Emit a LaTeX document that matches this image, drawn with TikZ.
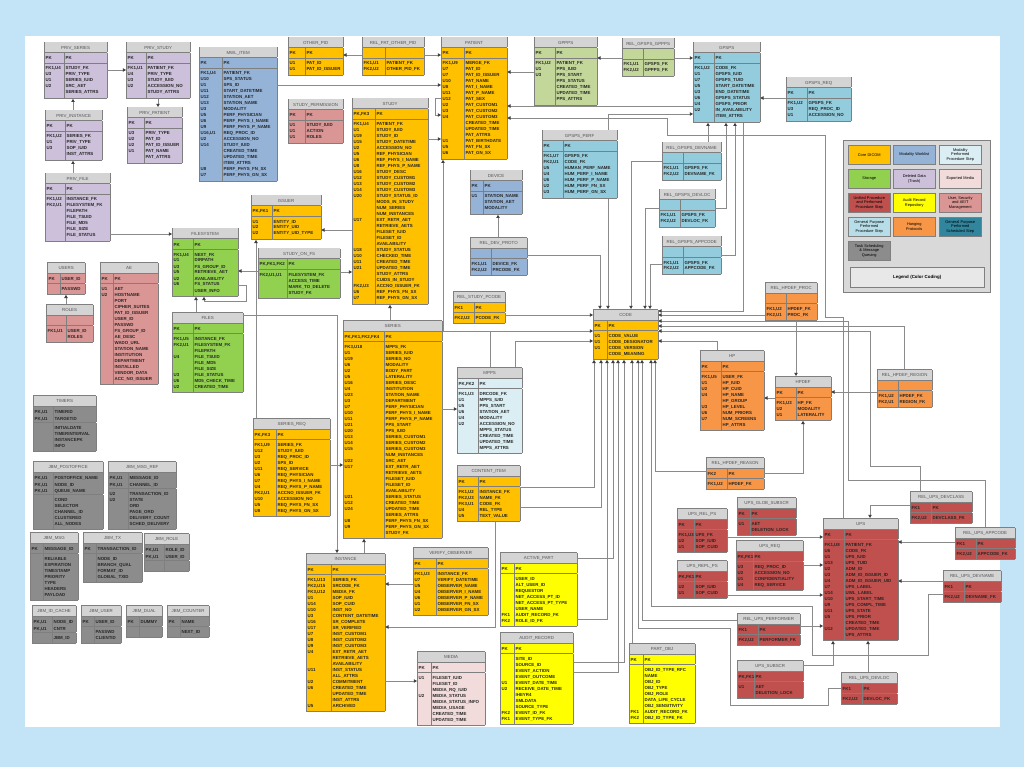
\documentclass[tikz,border=0pt]{standalone}
\usepackage{fontspec}
\setmainfont{Liberation Sans}
\usepackage{tikz}
\usepackage{colortbl}
\usetikzlibrary{arrows.meta}

\definecolor{bgblue}{HTML}{C2E4F6}
\definecolor{linegrey}{HTML}{8A8A8A}
\definecolor{rulegrey}{HTML}{7F7F7F}
\definecolor{hdrgrey}{HTML}{D4D4D4}
\definecolor{hdrtxt}{HTML}{555555}
\definecolor{core}{HTML}{FFC000}
\definecolor{mwl}{HTML}{95B3D7}
\definecolor{mppsc}{HTML}{DAEEF3}
\definecolor{storage}{HTML}{92D050}
\definecolor{trash}{HTML}{CCC0DA}
\definecolor{exported}{HTML}{F2DCDB}
\definecolor{upsc}{HTML}{C0504D}
\definecolor{audit}{HTML}{FFFF00}
\definecolor{usersec}{HTML}{DA9694}
\definecolor{gpssc}{HTML}{93CDDD}
\definecolor{gpppsc}{HTML}{C4D79B}
\definecolor{hpc}{HTML}{F79646}
\definecolor{taskc}{HTML}{8C8C8C}
\definecolor{leggpp}{HTML}{B7DEE8}
\definecolor{leggps}{HTML}{31859C}
\definecolor{legbg}{HTML}{D9D9D9}

\setlength{\tabcolsep}{1.2pt}
\setlength{\arrayrulewidth}{0.5pt}
\arrayrulecolor{rulegrey}

\newcommand{\erd}[5]{%
\begin{tabular}{|>{\raggedright\arraybackslash}p{#1pt}|>{\raggedright\arraybackslash}p{#2pt}|}\hline
\multicolumn{2}{|c|}{\cellcolor{hdrgrey}\rule[-3pt]{0pt}{10pt}\mdseries\color{hdrtxt}#3}\\\hline
\rule[-3pt]{0pt}{10pt}#4\\\hline
\rule{0pt}{6.5pt}#5\rule[-4.3pt]{0pt}{0pt}\\\hline
\end{tabular}}

\tikzset{
  tbl/.style={anchor=north west, inner sep=0pt, outer sep=0pt, fill=#1, text=black!85,
    font={\fontsize{4.4}{6}\selectfont\bfseries}},
  fk/.style={draw=linegrey, line width=0.8pt, -{Triangle[length=3.2pt,width=3.4pt,color=black!75]}},
  legcell/.style={draw=rulegrey, line width=0.5pt, fill=#1, minimum width=42pt, minimum height=19pt,
    text width=40pt, align=center, inner sep=0.5pt, anchor=north west, font={\fontsize{3.9}{4.6}\selectfont}}
}

\begin{document}
\catcode`\_=12
\begin{tikzpicture}[x=1pt,y=-1pt]
\useasboundingbox (0,0) rectangle (1024,767);
\fill[bgblue] (0,0) rectangle (1024,767);
\fill[white] (25,36) rectangle (1000,727);

% deleted data
\node[tbl=trash] (prvseries) at (44,42) {\erd{17}{40}{PRIV_SERIES}{PK & PK}{FK1,U4 & STUDY_FK\\ U3 & PRIV_TYPE\\ U1 & SERIES_IUID\\ U2 & SRC_AET\\ & SERIES_ATTRS}};
\node[tbl=trash] (prvstudy) at (126,42) {\erd{17}{41}{PRIV_STUDY}{PK & PK}{FK1,U1 & PATIENT_FK\\ U4 & PRIV_TYPE\\ U3 & STUDY_IUID\\ U2 & ACCESSION_NO\\ & STUDY_ATTRS}};
\node[tbl=trash] (prvpatient) at (127,107) {\erd{14}{35}{PRIV_PATIENT}{PK & PK}{U3 & PRIV_TYPE\\ U2 & PAT_ID\\ U2 & PAT_ID_ISSUER\\ U1 & PAT_NAME\\ & PAT_ATTRS}};
\node[tbl=trash] (prvinstance) at (45,110) {\erd{17}{34}{PRIV_INSTANCE}{PK & PK}{FK1,U2 & SERIES_FK\\ U1 & PRIV_TYPE\\ U3 & SOP_IUID\\ & INST_ATTRS}};
\node[tbl=trash] (prvfile) at (45,173) {\erd{17}{42}{PRIV_FILE}{PK & PK}{FK1,U2 & INSTANCE_FK\\ FK2,U1 & FILESYSTEM_FK\\ & FILEPATH\\ & FILE_TSUID\\ & FILE_MD5\\ & FILE_SIZE\\ & FILE_STATUS}};

% worklist, patient, study
\node[tbl=mwl] (mwl) at (199,47) {\erd{20}{52}{MWL_ITEM}{PK & PK}{FK1,U4 & PATIENT_FK\\ U10 & SPS_STATUS\\ U1 & SPS_ID\\ U11 & START_DATETIME\\ U12 & STATION_AET\\ U13 & STATION_NAME\\ U3 & MODALITY\\ U5 & PERF_PHYSICIAN\\ U6 & PERF_PHYS_I_NAME\\ U9 & PERF_PHYS_P_NAME\\ U16,U1 & REQ_PROC_ID\\ U2 & ACCESSION_NO\\ U14 & STUDY_IUID\\ & CREATED_TIME\\ & UPDATED_TIME\\ & ITEM_ATTRS\\ U8 & PERF_PHYS_FN_SX\\ U7 & PERF_PHYS_GN_SX}};
\node[tbl=core] (othpid) at (288,37) {\erd{14}{35}{OTHER_PID}{PK & PK}{U1 & PAT_ID\\ U1 & PAT_ID_ISSUER}};
\node[tbl=core] (relpatpid) at (362,37) {\erd{20}{36}{REL_PAT_OTHER_PID}{ & }{FK1,U1 & PATIENT_FK\\ FK2,U2 & OTHER_PID_FK}};
\node[tbl=core] (patient) at (441,37) {\erd{20}{40}{PATIENT}{PK & PK}{FK1,U9 & MERGE_FK\\ U7 & PAT_ID\\ U7 & PAT_ID_ISSUER\\ U10 & PAT_NAME\\ U8 & PAT_I_NAME\\ U11 & PAT_P_NAME\\ U12 & PAT_SEX\\ U2 & PAT_CUSTOM1\\ U3 & PAT_CUSTOM2\\ U4 & PAT_CUSTOM3\\ & CREATED_TIME\\ & UPDATED_TIME\\ & PAT_ATTRS\\ U1 & PAT_BIRTHDATE\\ U5 & PAT_FN_SX\\ U6 & PAT_GN_SX}};
\node[tbl=usersec] (stperm) at (288,99) {\erd{14}{35}{STUDY_PERMISSION}{PK & PK}{U1 & STUDY_IUID\\ U1 & ACTION\\ U1 & ROLES}};
\node[tbl=core] (study) at (352,98) {\erd{20}{50}{STUDY}{PK,FK3 & PK}{FK1,U4 & PATIENT_FK\\ U1 & STUDY_IUID\\ U19 & STUDY_ID\\ U15 & STUDY_DATETIME\\ U2 & ACCESSION_NO\\ U5 & REF_PHYSICIAN\\ U6 & REF_PHYS_I_NAME\\ U8 & REF_PHYS_P_NAME\\ U16 & STUDY_DESC\\ U12 & STUDY_CUSTOM1\\ U13 & STUDY_CUSTOM2\\ U14 & STUDY_CUSTOM3\\ U20 & STUDY_STATUS_ID\\ & MODS_IN_STUDY\\ & NUM_SERIES\\ & NUM_INSTANCES\\ U17 & EXT_RETR_AET\\ & RETRIEVE_AETS\\ & FILESET_IUID\\ & FILESET_ID\\ & AVAILABILITY\\ U18 & STUDY_STATUS\\ U10 & CHECKED_TIME\\ U11 & CREATED_TIME\\ U21 & UPDATED_TIME\\ & STUDY_ATTRS\\ & CUIDS_IN_STUDY\\ FK2,U3 & ACCNO_ISSUER_FK\\ U6 & REF_PHYS_FN_SX\\ U7 & REF_PHYS_GN_SX}};
\node[tbl=core] (issuer) at (251,195) {\erd{18}{46}{ISSUER}{PK,FK1 & PK}{U1 & ENTITY_ID\\ U2 & ENTITY_UID\\ U2 & ENTITY_UID_TYPE}};
\node[tbl=storage] (studyonfs) at (258,248) {\erd{26}{50}{STUDY_ON_FS}{PK,FK1,FK2 & PK}{FK2,U1,U1 & FILESYSTEM_FK\\ & ACCESS_TIME\\ & MARK_TO_DELETE\\ & STUDY_FK}};

% general purpose worklist
\node[tbl=gpppsc] (gppps) at (534,37) {\erd{18}{39}{GPPPS}{PK & PK}{FK1,U2 & PATIENT_FK\\ U1 & PPS_IUID\\ U3 & PPS_START\\ & PPS_STATUS\\ & CREATED_TIME\\ & UPDATED_TIME\\ & PPS_ATTRS}};
\node[tbl=gpppsc] (relgpsgpp) at (622,38) {\erd{18}{28}{REL_GPSPS_GPPPS}{ & }{FK1,U1 & GPSPS_FK\\ FK2,U2 & GPPPS_FK}};
\node[tbl=gpssc] (gpsps) at (693,42) {\erd{18}{43}{GPSPS}{PK & PK}{FK1,U2 & CODE_FK\\ U1 & GPSPS_IUID\\ U7 & GPSPS_TUID\\ U5 & START_DATETIME\\ U3 & END_DATETIME\\ U6 & GPSPS_STATUS\\ U4 & GPSPS_PRIOR\\ U2 & IN_AVAILABILITY\\ & ITEM_ATTRS}};
\node[tbl=gpssc] (gpspsreq) at (786,77) {\erd{18}{41}{GPSPS_REQ}{PK & PK}{FK1,U2 & GPSPS_FK\\ U3 & REQ_PROC_ID\\ U1 & ACCESSION_NO}};
\node[tbl=gpssc] (gpspsperf) at (542,130) {\erd{18}{51}{GPSPS_PERF}{PK & PK}{FK1,U7 & GPSPS_FK\\ FK2,U1 & CODE_FK\\ U5 & HUMAN_PERF_NAME\\ U4 & HUM_PERF_I_NAME\\ U6 & HUM_PERF_P_NAME\\ U2 & HUM_PERF_FN_SX\\ U3 & HUM_PERF_GN_SX}};
\node[tbl=gpssc] (relgdevname) at (662,142) {\erd{18}{35}{REL_GPSPS_DEVNAME}{ & }{FK1,U1 & GPSPS_FK\\ FK2,U2 & DEVNAME_FK}};
\node[tbl=gpssc] (relgdevloc) at (659,189) {\erd{18}{32}{REL_GPSPS_DEVLOC}{ & }{FK1,U1 & GPSPS_FK\\ FK2,U2 & DEVLOC_FK}};
\node[tbl=gpssc] (relgappcode) at (662,236) {\erd{18}{35}{REL_GPSPS_APPCODE}{ & }{FK1,U1 & GPSPS_FK\\ FK2,U2 & APPCODE_FK}};
\node[tbl=mwl] (device) at (470,170) {\erd{10}{36}{DEVICE}{PK & PK}{U1 & STATION_NAME\\ & STATION_AET\\ & MODALITY}};
\node[tbl=mwl] (reldevproto) at (470,237) {\erd{18}{33}{REL_DEV_PROTO}{ & }{FK1,U1 & DEVICE_FK\\ FK2,U2 & PRCODE_FK}};

% storage, users
\node[tbl=storage] (filesystem) at (172,228) {\erd{18}{42}{FILESYSTEM}{PK & PK}{FK1,U4 & NEXT_FK\\ U1 & DIRPATH\\ U3 & FS_GROUP_ID\\ U5 & RETRIEVE_AET\\ U2 & AVAILABILITY\\ U6 & FS_STATUS\\ & USER_INFO}};
\node[tbl=usersec] (users) at (47,262) {\erd{10}{22}{USERS}{PK & USER_ID}{ & PASSWD}};
\node[tbl=usersec] (roles) at (46,304) {\erd{17}{24}{ROLES}{ & }{FK1,U1 & USER_ID\\ & ROLES}};
\node[tbl=usersec] (ae) at (100,262) {\erd{10}{42}{AE}{PK & PK}{U1 & AET\\ U2 & HOSTNAME\\ & PORT\\ & CIPHER_SUITES\\ & PAT_ID_ISSUER\\ & USER_ID\\ & PASSWD\\ & FS_GROUP_ID\\ & AE_DESC\\ & WADO_URL\\ & STATION_NAME\\ & INSTITUTION\\ & DEPARTMENT\\ & INSTALLED\\ & VENDOR_DATA\\ & ACC_NO_ISSUER}};
\node[tbl=storage] (files) at (172,312) {\erd{18}{47}{FILES}{PK & PK}{FK1,U5 & INSTANCE_FK\\ FK2,U1 & FILESYSTEM_FK\\ & FILEPATH\\ U4 & FILE_TSUID\\ & FILE_MD5\\ & FILE_SIZE\\ U3 & FILE_STATUS\\ U6 & MD5_CHECK_TIME\\ U2 & CREATED_TIME}};

% task scheduling and message queuing
\node[tbl=taskc] (timers) at (33,395) {\erd{17}{40}{TIMERS}{PK,U1 & TIMERID\\ PK,U1 & TARGETID}{ & INITIALDATE\\ & TIMERINTERVAL\\ & INSTANCEPK\\ & INFO}};
\node[tbl=taskc] (jbmpo) at (33,461) {\erd{17}{47}{JBM_POSTOFFICE}{PK,U1 & POSTOFFICE_NAME\\ PK,U1 & NODE_ID\\ PK,U1 & QUEUE_NAME}{ & COND\\ & SELECTOR\\ & CHANNEL_ID\\ & CLUSTERED\\ & ALL_NODES}};
\node[tbl=taskc] (jbmmsgref) at (108,461) {\erd{17}{45}{JBM_MSG_REF}{PK,U1 & MESSAGE_ID\\ PK,U1 & CHANNEL_ID}{U2 & TRANSACTION_ID\\ U2 & STATE\\ & ORD\\ & PAGE_ORD\\ & DELIVERY_COUNT\\ & SCHED_DELIVERY}};
\node[tbl=taskc] (jbmmsg) at (30,532) {\erd{10}{32}{JBM_MSG}{PK & MESSAGE_ID}{ & RELIABLE\\ & EXPIRATION\\ & TIMESTAMP\\ & PRIORITY\\ & TYPE\\ & HEADERS\\ & PAYLOAD}};
\node[tbl=taskc] (jbmtx) at (83,532) {\erd{10}{43}{JBM_TX}{PK & TRANSACTION_ID}{ & NODE_ID\\ & BRANCH_QUAL\\ & FORMAT_ID\\ & GLOBAL_TXID}};
\node[tbl=taskc] (jbmrole) at (144,533) {\erd{17}{22}{JBM_ROLE}{PK,U1 & ROLE_ID\\ PK,U1 & USER_ID}{ & }};
\node[tbl=taskc] (jbmidc) at (32,605) {\erd{17}{21}{JBM_ID_CACHE}{PK,U1 & NODE_ID\\ PK,U1 & CNTR}{ & JBM_ID}};
\node[tbl=taskc] (jbmuser) at (81,605) {\erd{10}{24}{JBM_USER}{PK & USER_ID}{ & PASSWD\\ & CLIENTID}};
\node[tbl=taskc] (jbmdual) at (126,605) {\erd{10}{20}{JBM_DUAL}{PK & DUMMY}{ & }};
\node[tbl=taskc] (jbmcounter) at (167,605) {\erd{10}{26}{JBM_COUNTER}{PK & NAME}{ & NEXT_ID}};

% series, instance, code
\node[tbl=core] (series) at (343,320) {\erd{38}{55}{SERIES}{PK,FK1,FK2,FK4 & PK}{FK3,U18 & MPPS_FK\\ U1 & SERIES_IUID\\ U19 & SERIES_NO\\ U6 & MODALITY\\ U2 & BODY_PART\\ U5 & LATERALITY\\ U16 & SERIES_DESC\\ U4 & INSTITUTION\\ U23 & STATION_NAME\\ U3 & DEPARTMENT\\ U7 & PERF_PHYSICIAN\\ U10 & PERF_PHYS_I_NAME\\ U11 & PERF_PHYS_P_NAME\\ U21 & PPS_START\\ U20 & PPS_IUID\\ U13 & SERIES_CUSTOM1\\ U14 & SERIES_CUSTOM2\\ U15 & SERIES_CUSTOM3\\ & NUM_INSTANCES\\ U22 & SRC_AET\\ U17 & EXT_RETR_AET\\ & RETRIEVE_AETS\\ & FILESET_IUID\\ & FILESET_ID\\ & AVAILABILITY\\ U21 & SERIES_STATUS\\ U12 & CREATED_TIME\\ U24 & UPDATED_TIME\\ & SERIES_ATTRS\\ U8 & PERF_PHYS_FN_SX\\ U9 & PERF_PHYS_GN_SX\\ & STUDY_FK}};
\node[tbl=core] (seriesreq) at (253,418) {\erd{20}{51}{SERIES_REQ}{PK,FK3 & PK}{FK1,U9 & SERIES_FK\\ U12 & STUDY_IUID\\ U3 & REQ_PROC_ID\\ U2 & SPS_ID\\ U11 & REQ_SERVICE\\ U6 & REQ_PHYSICIAN\\ U7 & REQ_PHYS_I_NAME\\ U4 & REQ_PHYS_P_NAME\\ FK2,U1 & ACCNO_ISSUER_FK\\ U10 & ACCESSION_NO\\ U5 & REQ_PHYS_FN_SX\\ U8 & REQ_PHYS_GN_SX}};
\node[tbl=core] (relstudypc) at (453,291) {\erd{18}{28}{REL_STUDY_PCODE}{FK1 & PK}{FK2,U2 & PCODE_FK}};
\node[tbl=core] (code) at (593,309) {\erd{11}{48}{CODE}{PK & PK}{U1 & CODE_VALUE\\ U1 & CODE_DESIGNATOR\\ U1 & CODE_VERSION\\ & CODE_MEANING}};
\node[tbl=mppsc] (mpps) at (457,367) {\erd{18}{41}{MPPS}{PK,FK2 & PK}{FK1,U3 & DRCODE_FK\\ U1 & MPPS_IUID\\ U5 & PPS_START\\ U6 & STATION_AET\\ U4 & MODALITY\\ U2 & ACCESSION_NO\\ & MPPS_STATUS\\ & CREATED_TIME\\ & UPDATED_TIME\\ & MPPS_ATTRS}};
\node[tbl=core] (contentitem) at (457,465) {\erd{18}{39}{CONTENT_ITEM}{PK & PK}{FK1,U2 & INSTANCE_FK\\ FK2,U3 & NAME_FK\\ FK3,U1 & CODE_FK\\ U4 & REL_TYPE\\ U5 & TEXT_VALUE}};
\node[tbl=core] (instance) at (306,553) {\erd{22}{51}{INSTANCE}{PK & PK}{FK1,U13 & SERIES_FK\\ FK2,U15 & SRCODE_FK\\ FK3,U12 & MEDIA_FK\\ U1 & SOP_IUID\\ U14 & SOP_CUID\\ U10 & INST_NO\\ U3 & CONTENT_DATETIME\\ U16 & SR_COMPLETE\\ U17 & SR_VERIFIED\\ U7 & INST_CUSTOM1\\ U8 & INST_CUSTOM2\\ U9 & INST_CUSTOM3\\ U4 & EXT_RETR_AET\\ & RETRIEVE_AETS\\ & AVAILABILITY\\ U11 & INST_STATUS\\ & ALL_ATTRS\\ U2 & COMMITMENT\\ U6 & CREATED_TIME\\ & UPDATED_TIME\\ & INST_ATTRS\\ U5 & ARCHIVED}};
\node[tbl=core] (verifyobs) at (413,547) {\erd{20}{49}{VERIFY_OBSERVER}{PK & PK}{FK1,U3 & INSTANCE_FK\\ U7 & VERIFY_DATETIME\\ U5 & OBSERVER_NAME\\ U4 & OBSERVER_I_NAME\\ U6 & OBSERVER_P_NAME\\ U1 & OBSERVER_FN_SX\\ U2 & OBSERVER_GN_SX}};
\node[tbl=exported] (media) at (417,651) {\erd{11}{51}{MEDIA}{PK & PK}{U1 & FILESET_IUID\\ & FILESET_ID\\ & MEDIA_RQ_IUID\\ U2 & MEDIA_STATUS\\ & MEDIA_STATUS_INFO\\ & MEDIA_USAGE\\ & CREATED_TIME\\ & UPDATED_TIME}};

% audit record repository
\node[tbl=audit] (activepart) at (500,552) {\erd{11}{60}{ACTIVE_PART}{PK & PK}{ & USER_ID\\ & ALT_USER_ID\\ & REQUESTOR\\ & NET_ACCESS_PT_ID\\ & NET_ACCESS_PT_TYPE\\ & USER_NAME\\ FK1 & AUDIT_RECORD_FK\\ FK2 & ROLE_ID_FK}};
\node[tbl=audit] (auditrec) at (500,632) {\erd{11}{56}{AUDIT_RECORD}{PK & PK}{ & SITE_ID\\ & SOURCE_ID\\ & EVENT_ACTION\\ & EVENT_OUTCOME\\ U1 & EVENT_DATE_TIME\\ U2 & RECEIVE_DATE_TIME\\ & IHEYR4\\ & XMLDATA\\ & SOURCE_TYPE\\ FK2 & EVENT_ID_FK\\ FK1 & EVENT_TYPE_FK}};
\node[tbl=audit] (partobj) at (629,643) {\erd{11}{49}{PART_OBJ}{PK & PK}{ & OBJ_ID_TYPE_RFC\\ & NAME\\ & OBJ_ID\\ & OBJ_TYPE\\ & OBJ_ROLE\\ & DATA_LIFE_CYCLE\\ & OBJ_SENSITIVITY\\ FK1 & AUDIT_RECORD_FK\\ FK2 & OBJ_ID_TYPE_FK}};

% hanging protocols
\node[tbl=hpc] (hp) at (700,350) {\erd{18}{40}{HP}{PK & PK}{FK1,U5 & USER_FK\\ U1 & HP_IUID\\ U2 & HP_CUID\\ U4 & HP_NAME\\ & HP_GROUP\\ U3 & HP_LEVEL\\ U6 & NUM_PRIORS\\ U7 & NUM_SCREENS\\ & HP_ATTRS}};
\node[tbl=hpc] (relhpdefreason) at (706,457) {\erd{18}{34}{REL_HPDEF_REASON}{FK2 & PK}{FK1,U2 & HPDEF_FK}};
\node[tbl=hpc] (hpdef) at (775,376) {\erd{18}{32}{HPDEF}{PK & PK}{FK1,U3 & HP_FK\\ U2 & MODALITY\\ U1 & LATERALITY}};
\node[tbl=hpc] (relhpdefproc) at (765,282) {\erd{18}{28}{REL_HPDEF_PROC}{ & }{FK1,U2 & HPDEF_FK\\ FK2,U1 & PROC_FK}};
\node[tbl=hpc] (relhpdefregion) at (877,369) {\erd{18}{31}{REL_HPDEF_REGION}{ & }{FK1,U2 & HPDEF_FK\\ FK2,U1 & REGION_FK}};

% unified procedure step
\node[tbl=upsc] (upsrelps) at (677,508) {\erd{14}{30}{UPS_REL_PS}{PK & PK}{FK1,U3 & UPS_FK\\ U2 & SOP_IUID\\ U1 & SOP_CUID}};
\node[tbl=upsc] (upsreplps) at (677,560) {\erd{14}{30}{UPS_REPL_PS}{PK,FK1 & PK}{U2 & SOP_IUID\\ U1 & SOP_CUID}};
\node[tbl=upsc] (upsglob) at (737,497) {\erd{10}{43}{UPS_GLOB_SUBSCR}{PK & PK}{U1 & AET\\ & DELETION_LOCK}};
\node[tbl=upsc] (upsreq) at (736,540) {\erd{14}{47}{UPS_REQ}{PK,FK1 & PK}{U3 & REQ_PROC_ID\\ U2 & ACCESSION_NO\\ U1 & CONFIDENTIALITY\\ U4 & REQ_SERVICE}};
\node[tbl=upsc] (relupsperf) at (737,613) {\erd{18}{39}{REL_UPS_PERFORMER}{FK1 & PK}{FK2,U2 & PERFORMER_FK}};
\node[tbl=upsc] (upssubscr) at (737,660) {\erd{14}{46}{UPS_SUBSCR}{PK,FK1 & PK}{U1 & AET\\ & DELETION_LOCK}};
\node[tbl=upsc] (ups) at (823,518) {\erd{18}{51}{UPS}{PK & PK}{FK1,U8 & PATIENT_FK\\ U6 & CODE_FK\\ U1 & UPS_IUID\\ U13 & UPS_TUID\\ U2 & ADM_ID\\ U3 & ADM_ID_ISSUER_ID\\ U4 & ADM_ID_ISSUER_UID\\ U7 & UPS_LABEL\\ U14 & UWL_LABEL\\ U10 & UPS_START_TIME\\ U9 & UPS_COMPL_TIME\\ U11 & UPS_STATE\\ U5 & UPS_PRIOR\\ & CREATED_TIME\\ U12 & UPDATED_TIME\\ & UPS_ATTRS}};
\node[tbl=upsc] (relupsdevclass) at (910,491) {\erd{18}{38}{REL_UPS_DEVCLASS}{FK1 & PK}{FK2,U2 & DEVCLASS_FK}};
\node[tbl=upsc] (relupsappcode) at (955,527) {\erd{18}{36}{REL_UPS_APPCODE}{FK1 & PK}{FK2,U2 & APPCODE_FK}};
\node[tbl=upsc] (relupsdevname) at (943,570) {\erd{18}{34}{REL_UPS_DEVNAME}{FK1 & PK}{FK2,U2 & DEVNAME_FK}};
\node[tbl=upsc] (relupsdevloc) at (841,672) {\erd{18}{32}{REL_UPS_DEVLOC}{FK1 & PK}{FK2,U2 & DEVLOC_FK}};

% legend
\node[draw=rulegrey, line width=0.6pt, fill=legbg, minimum width=147pt, minimum height=152pt, anchor=north west] (legend) at (843,140) {};
\node[legcell=core] (lcore) at (848,145) {Core DICOM};
\node[legcell=mwl] (lmwl) at (893,145) {Modality Worklist};
\node[legcell=mppsc] (lmpps) at (939,145) {Modality\\Performed\\Procedure Step};
\node[legcell=storage] (lstorage) at (848,169) {Storage};
\node[legcell=trash] (ltrash) at (893,169) {Deleted Data\\(Trash)};
\node[legcell=exported] (lmedia) at (939,169) {Exported Media};
\node[legcell=upsc] (lups) at (848,193) {Unified Procedure\\and Performed\\Procedure Step};
\node[legcell=audit] (laudit) at (893,193) {Audit Record\\Repository};
\node[legcell=usersec] (luser) at (939,193) {User, Security\\and AE/T\\Management};
\node[legcell=leggpp] (lgpp) at (848,217) {General Purpose\\Performed\\Procedure Step};
\node[legcell=hpc] (lhp) at (893,217) {Hanging\\Protocols};
\node[legcell=leggps] (lgps) at (939,217) {General Purpose\\Performed\\Scheduled Step};
\node[legcell=taskc] (ltask) at (848,241) {Task Scheduling\\\& Message\\Queuing};
\node[legcell=legbg!60!white, minimum width=134pt, text width=130pt, minimum height=20pt, font={\fontsize{4.4}{5}\selectfont\bfseries}] (legtitle) at (850,267) {Legend (Color Coding)};

% connectors
\draw[fk] (prvseries.east|-0,70) -- (prvstudy.west|-0,70);
\draw[fk] (prvstudy.south-|158,0) -- (prvpatient.north-|158,0);
\draw[fk] (prvinstance.north-|73,0) -- (prvseries.south-|73,0);
\draw[fk] (prvfile.north-|73,0) -- (prvinstance.south-|73,0);
\draw[fk] (prvfile.east|-0,234) -- (filesystem.west|-0,234);
\draw[fk] (mwl.east|-0,85) -- (patient.west|-0,85);
\draw[fk] (relpatpid.west|-0,55) -- (othpid.east|-0,55);
\draw[fk] (relpatpid.east|-0,55) -- (patient.west|-0,55);
\draw[fk] (study.east|-0,139) -- (patient.west|-0,139);
\draw[fk] (patient.west|-0,98) -- (435,98) -- (435,115) -- (patient.west|-0,115);
\draw[fk] (study.west|-0,230) -- (issuer.east|-0,230);
\draw[fk] (studyonfs.east|-0,272) -- (study.west|-0,272);
\draw[fk] (studyonfs.west|-0,271) -- (filesystem.east|-0,271);
\draw[fk] (files.north-|196,0) -- (filesystem.south-|196,0);
\draw[fk] (filesystem.east|-0,285) -- (246,285) -- (246,301) -- (204,301) -- (filesystem.south-|204,0);
\draw[fk] (files.east|-0,315) -- (337,315) -- (instance.north-|337,0);
\draw[fk] (seriesreq.north-|256,0) -- (issuer.south-|256,0);
\draw[fk] (seriesreq.east|-0,465) -- (series.west|-0,465);
\draw[fk] (series.north-|390,0) -- (study.south-|390,0);
\draw[fk] (series.east|-0,409) -- (mpps.west|-0,409);
\draw[fk] (instance.north-|364,0) -- (series.south-|364,0);
\draw[fk] (verifyobs.west|-0,584) -- (instance.east|-0,584);
\draw[fk] (contentitem.south-|495,0) -- (495,627) -- (instance.east|-0,627);
\draw[fk] (instance.east|-0,681) -- (media.west|-0,681);
\draw[fk] (roles.north-|66,0) -- (users.south-|66,0);
\draw[fk] (reldevproto.north-|498,0) -- (device.south-|498,0);
\draw[fk] (reldevproto.east|-0,255) -- (600,255) -- (code.north-|600,0);
\draw[fk] (gpspsperf.south-|608,0) -- (code.north-|608,0);
\draw[fk] (relgdevname.west|-0,161) -- (631,161) -- (code.north-|631,0);
\draw[fk] (relgdevloc.west|-0,208) -- (645,208) -- (code.north-|645,0);
\draw[fk] (relgappcode.west|-0,264) -- (650,264) -- (code.north-|650,0);
\draw[fk] (relgdevname.north-|708,0) -- (gpsps.south-|708,0);
\draw[fk] (relgdevloc.east|-0,208) -- (726,208) -- (gpsps.south-|726,0);
\draw[fk] (relgappcode.east|-0,255) -- (735,255) -- (gpsps.south-|735,0);
\draw[fk] (gpsps.south-|743,0) -- (743,311) -- (code.east|-0,311);
\draw[fk] (gpspsreq.west|-0,98) -- (gpsps.east|-0,98);
\draw[fk] (relgpsgpp.west|-0,58) -- (gppps.east|-0,58);
\draw[fk] (relgpsgpp.east|-0,58) -- (gpsps.west|-0,58);
\draw[fk] (gppps.west|-0,72) -- (patient.east|-0,72);
\draw[fk] (gpsps.west|-0,106) -- (patient.east|-0,106);
\draw[fk] (gpspsperf.north-|608,0) -- (608,114) -- (gpsps.west|-0,114);
\draw[fk] (ups.north-|843,0) -- (843,317) -- (825,317) -- (825,135) -- (667,135) -- (667,118) -- (patient.east|-0,118);
\draw[fk] (relstudypc.east|-0,315) -- (code.west|-0,315);
\draw[fk] (mpps.north-|490,0) -- (490,331) -- (443,331) -- (patient.south-|443,0);
\draw[fk] (mpps.north-|490,0) -- (490,331) -- (code.west|-0,331);
\draw[fk] (mpps.north-|515,0) -- (515,341) -- (code.west|-0,341);
\draw[fk] (contentitem.east|-0,487) -- (594,487) -- (code.south-|594,0);
\draw[fk] (contentitem.east|-0,507) -- (601,507) -- (code.south-|601,0);
\draw[fk] (activepart.east|-0,619) -- (607,619) -- (code.south-|607,0);
\draw[fk] (activepart.east|-0,558) -- (613,558) -- (code.south-|613,0);
\draw[fk] (auditrec.east|-0,672) -- (618,672) -- (code.south-|618,0);
\draw[fk] (auditrec.east|-0,662) -- (624,662) -- (code.south-|624,0);
\draw[fk] (partobj.north-|632,0) -- (code.south-|632,0);
\draw[fk] (relupsdevloc.west|-0,688) -- (828,688) -- (828,705) -- (730,705) -- (730,628) -- (638,628) -- (code.south-|638,0);
\draw[fk] (relupsperf.west|-0,620) -- (642,620) -- (code.south-|642,0);
\draw[fk] (relupsdevname.west|-0,594) -- (928,594) -- (928,655) -- (812,655) -- (812,606) -- (651,606) -- (code.south-|651,0);
\draw[fk] (relhpdefreason.west|-0,471) -- (655,471) -- (code.south-|655,0);
\draw[fk] (hp.north-|717,0) -- (717,341) -- (code.east|-0,341);
\draw[fk] (relhpdefproc.west|-0,315) -- (code.east|-0,315);
\draw[fk] (relhpdefregion.north-|904,0) -- (904,326) -- (code.east|-0,326);
\draw[fk] (relupsdevclass.north-|920,0) -- (920,466) -- (870,466) -- (870,331) -- (code.east|-0,331);
\draw[fk] (relupsappcode.north-|985,0) -- (985,480) -- (848,480) -- (848,321) -- (code.east|-0,321);
\draw[fk] (relhpdefproc.south-|796,0) -- (hpdef.north-|796,0);
\draw[fk] (hpdef.west|-0,398) -- (hp.east|-0,398);
\draw[fk] (relhpdefregion.west|-0,392) -- (hpdef.east|-0,392);
\draw[fk] (relhpdefreason.east|-0,473) -- (803,473) -- (hpdef.south-|803,0);
\draw[fk] (upsrelps.east|-0,537) -- (ups.west|-0,537);
\draw[fk] (upsreq.east|-0,565) -- (ups.west|-0,565);
\draw[fk] (upsreplps.east|-0,595) -- (ups.west|-0,595);
\draw[fk] (relupsperf.east|-0,626) -- (ups.west|-0,626);
\draw[fk] (upssubscr.east|-0,665) -- (833,665) -- (ups.south-|833,0);
\draw[fk] (relupsdevloc.north-|868,0) -- (ups.south-|868,0);
\draw[fk] (relupsdevclass.west|-0,505) -- (870,505) -- (ups.north-|870,0);
\draw[fk] (relupsappcode.west|-0,542) -- (ups.east|-0,542);
\draw[fk] (relupsdevname.west|-0,581) -- (ups.east|-0,581);
\end{tikzpicture}
\end{document}
